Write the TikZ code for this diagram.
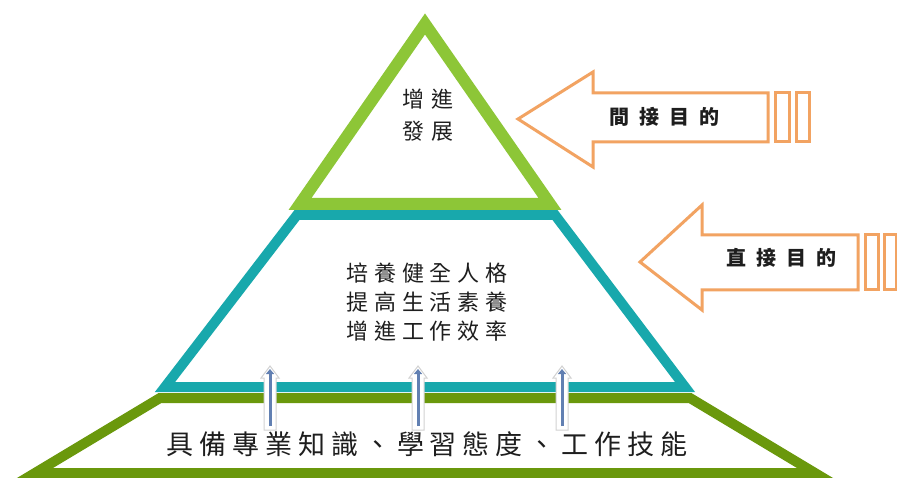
\documentclass[tikz,border=0pt]{standalone}
\usepackage{fontspec}
\usetikzlibrary{arrows.meta}
\newfontfamily\cjk{Noto Sans CJK TC}
\definecolor{topgreen}{RGB}{141,198,55}
\definecolor{tealc}{RGB}{24,168,172}
\definecolor{basegreen}{RGB}{106,152,12}
\definecolor{orangec}{RGB}{242,163,98}
\definecolor{arrowblue}{RGB}{98,128,178}
\definecolor{txt}{RGB}{30,30,30}
\begin{document}
\begin{tikzpicture}[x=1pt,y=-1pt,line join=miter,
  tri/.style={draw=topgreen,line width=12pt,fill=white},
  midtrap/.style={draw=tealc,line width=10pt,fill=white},
  basetrap/.style={draw=basegreen,line width=10pt,fill=white},
  bigarrow/.style={draw=orangec,line width=3pt,fill=white},
  upbox/.style={draw=gray!35,line width=1pt,fill=white},
  upline/.style={draw=arrowblue,line width=3pt,-{Triangle[length=5pt,width=8pt]}},
  txtA/.style={font=\cjk\addfontfeatures{LetterSpace=36}\fontsize{22}{32}\selectfont,align=center,inner sep=0pt,text=txt},
  txtB/.style={font=\cjk\addfontfeatures{LetterSpace=27}\fontsize{22}{29}\selectfont,align=center,inner sep=0pt,text=txt},
  txtC/.style={font=\cjk\addfontfeatures{LetterSpace=22}\fontsize{27}{30}\selectfont,align=center,inner sep=0pt,text=txt},
  txtD/.style={font=\cjk\bfseries\addfontfeatures{LetterSpace=50}\fontsize{20}{24}\selectfont,align=center,inner sep=0pt,text=txt}]
\useasboundingbox (0,0) rectangle (897,478);
\clip (0,0) rectangle (897,478);
\fill[white] (0,0) rectangle (897,478);
% pyramid
\draw[basetrap] (160,398) -- (690,398) -- (815,473) -- (35,473) -- cycle;
\draw[midtrap] (297,215) -- (555,215) -- (685,387) -- (165,387) -- cycle;
\draw[tri] (425,24) -- (550,204) -- (300,204) -- cycle;
% small up arrows
\foreach \x/\n in {270/u1,418/u2,562/u3}{
  \draw[upbox] (\x-6,430) -- (\x-6,378) -- (\x-9,378) -- (\x,366) -- (\x+9,378) -- (\x+6,378) -- (\x+6,430) -- cycle;
  \coordinate (\n s) at (\x,426);
  \coordinate (\n e) at (\x,369);
  \draw[upline] (\n s) -- (\n e);
}
% orange arrows
\draw[bigarrow] (518,119) -- (593,72) -- (593,93) -- (768,93) -- (768,142) -- (593,142) -- (593,167) -- cycle;
\draw[bigarrow] (775,93) rectangle (789,142);
\draw[bigarrow] (796,93) rectangle (809,142);
\draw[bigarrow] (640,262) -- (702,205) -- (702,235) -- (858,235) -- (858,290) -- (702,290) -- (702,310) -- cycle;
\draw[bigarrow] (865,235) rectangle (878,290);
\draw[bigarrow] (884,235) rectangle (896,290);
% texts
\node[txtA] (top) at (428,115) {增進\\發展};
\node[txtB] (mid) at (427,302) {培養健全人格\\提高生活素養\\增進工作效率};
\node[txtC] (bot) at (427,444) {具備專業知識、學習態度、工作技能};
\node[txtD] (ind) at (664,117) {間接目的};
\node[txtD] (dir) at (781,258) {直接目的};
\end{tikzpicture}
\end{document}
